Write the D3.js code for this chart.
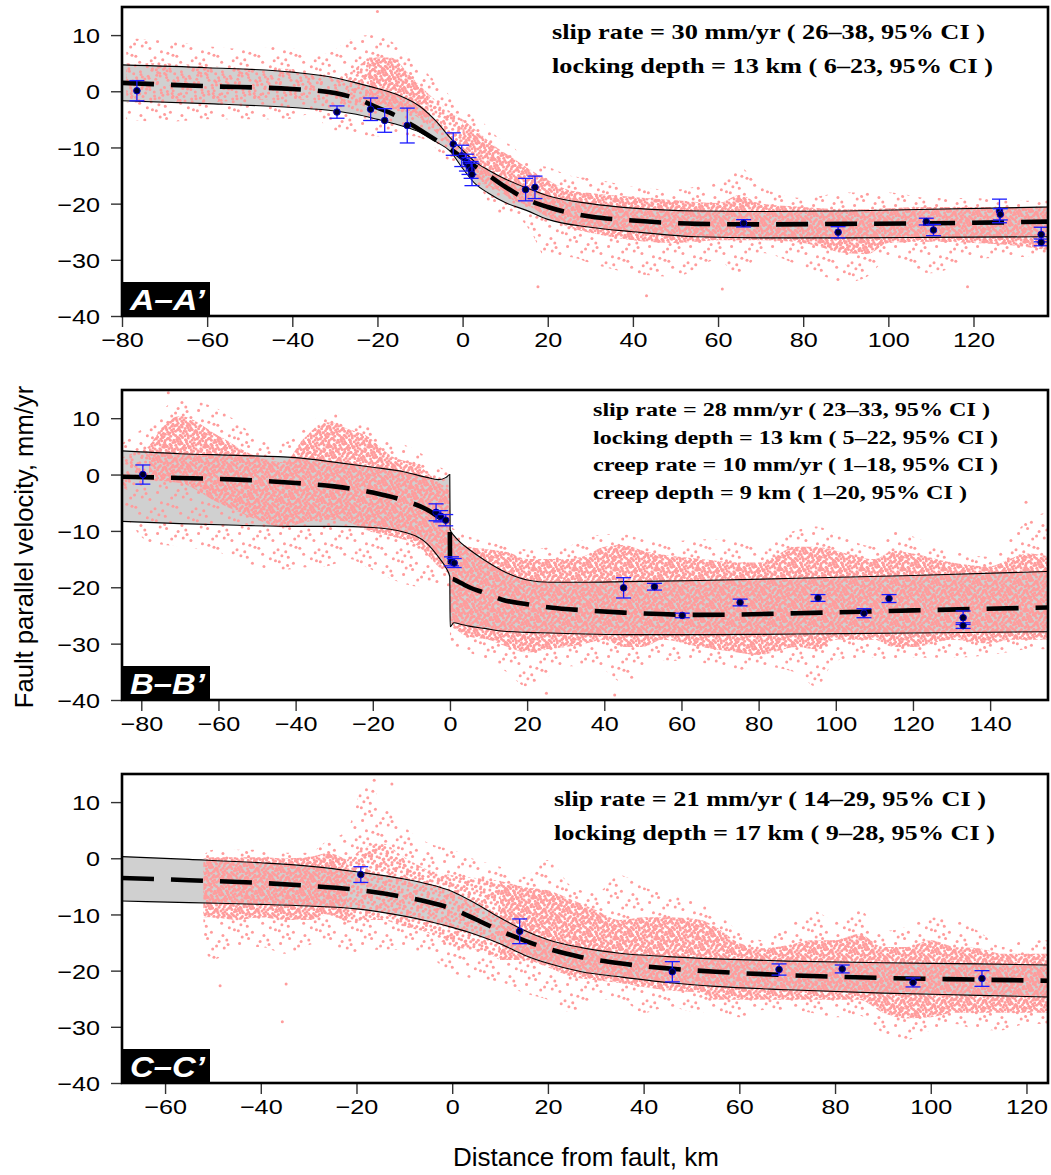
<!DOCTYPE html>
<html>
<head>
<meta charset="utf-8">
<script src="https://cdn.jsdelivr.net/npm/d3@7"></script>
<style>
  body { margin: 0; background: #fff; }
  svg { display: block; }
</style>
</head>
<body>
<svg id="chart" width="1051" height="1175"></svg>
<script>
// ---------- model curves (best fit + bounds) ----------
var modelA_x   = [-80, -60, -40, -30, -25, -20, -15, -10, -6, -3, 0, 3, 6, 10, 15, 20, 30, 40, 55, 70, 90, 110, 137.5];
var modelA_mid = [1.5, 0.9, 0.4, -0.3, -1.3, -2.9, -4.6, -6.9, -8.8, -10.2, -11.9, -13.4, -14.9, -17.0, -19.2, -20.6, -22.3, -23.0, -23.6, -23.7, -23.6, -23.5, -23.2];
var modelA_up  = [4.7, 4.2, 3.4, 2.4, 1.5, 0.5, -0.7, -2.7, -5.5, -8.2, -10.5, -12.6, -14.0, -15.6, -17.2, -18.6, -20.0, -20.8, -21.3, -21.4, -21.3, -21.0, -20.6];
var modelA_lo  = [-1.7, -2.2, -2.9, -3.5, -4.1, -5.0, -6.0, -7.3, -9.1, -10.6, -13.7, -16.5, -18.1, -19.8, -21.2, -22.8, -24.2, -25.0, -25.9, -26.1, -26.1, -26.0, -25.9];

var modelB_x   = [-85, -70, -55, -40, -30, -20, -12, -6, -3, -1, -0.05, 0.05, 1, 3, 5, 9, 14, 20, 26, 35, 45, 65, 90, 120, 155];
var modelB_mid = [-0.4, -0.6, -0.9, -1.5, -2.1, -3.2, -4.6, -6.2, -7.5, -8.4, -9.0, -18.4, -18.6, -19.3, -20.0, -21.0, -22.3, -23.0, -23.6, -24.1, -24.5, -24.9, -24.6, -24.1, -23.6];
var modelB_up  = [4.2, 3.7, 3.4, 3.0, 2.2, 1.3, 0.5, -0.5, -0.9, -0.5, 0.0, -9.8, -10.8, -12.2, -13.3, -15.2, -17.2, -18.7, -19.1, -19.1, -19.0, -18.8, -18.4, -17.9, -17.2];
var modelB_lo  = [-8.3, -8.7, -9.0, -9.2, -9.2, -9.4, -10.2, -12.2, -14.6, -16.6, -18.1, -27.0, -26.3, -26.6, -26.9, -27.3, -27.8, -28.0, -28.1, -28.3, -28.4, -28.4, -28.3, -28.1, -27.9];

var modelC_x   = [-69, -55, -40, -30, -20, -10, -5, 0, 5, 10, 15, 20, 27, 35, 45, 55, 70, 90, 110, 124.5];
var modelC_mid = [-3.5, -3.9, -4.4, -4.9, -5.6, -6.9, -7.8, -9.0, -10.9, -12.9, -14.6, -16.1, -17.6, -18.7, -19.6, -20.2, -20.8, -21.3, -21.6, -21.8];
var modelC_up  = [0.3, -0.2, -0.8, -1.4, -2.4, -3.7, -4.6, -5.9, -8.1, -10.6, -12.8, -14.5, -15.9, -16.9, -17.5, -17.9, -18.3, -18.6, -18.8, -19.0];
var modelC_lo  = [-7.6, -7.9, -8.2, -8.5, -9.0, -10.3, -11.2, -12.3, -13.6, -15.2, -17.2, -18.7, -20.2, -21.1, -22.1, -22.8, -23.4, -24.0, -24.4, -24.7];

// ---------- InSAR point cloud envelopes (outer = sparse, core = denser) ----------
// level: 0 light, 1 medium, 2 dense (applies to the stretch right of each station)
var cloudA_x       = [-79, -70, -60, -50, -42, -35, -31, -27, -22, -17, -12, -8, -4, 0, 4, 8, 12, 16, 20, 25, 30, 40, 50, 60, 65, 70, 80, 90, 95, 100, 110, 120, 130, 137.5];
var cloudA_outerHi = [9.5, 9, 8, 7.5, 8, 6.5, 7, 9, 10, 9, 6, 3, 0, -3, -5, -8, -10, -13, -13.5, -15, -15.5, -17, -17.5, -15.5, -13.5, -17, -19, -18, -18, -18, -19, -19, -19.5, -19.4];
var cloudA_coreHi  = [5, 5, 4.5, 4, 4, 3.5, 2.5, 3, 6, 6, 2.5, -0.5, -3, -5, -7.5, -10, -12, -14, -15.8, -17.6, -18.1, -18.8, -19.4, -19.9, -18.5, -20, -20.6, -21, -21, -20.8, -20.6, -20.6, -20.6, -20.6];
var cloudA_coreLo  = [-2, -2, -2, -1.5, -1.5, -1.5, -2.5, -3, -2, -3, -4, -6, -9, -12, -16, -17.5, -19.4, -20.6, -22.4, -24.2, -25.2, -26.5, -27, -26.5, -26.5, -26.5, -27, -28.8, -29, -27, -26.8, -27, -27.5, -28.3];
var cloudA_outerLo = [-5, -5.5, -5, -5, -5, -4, -7, -7, -8, -8, -8, -9, -12, -14, -17, -21.7, -22, -25, -30, -29.5, -30.6, -32.4, -33, -30, -33, -28.8, -31.3, -34, -33, -30, -32.4, -30, -29.5, -29.5];
var cloudA_level   = [0, 0, 0, 0, 0, 0, 0, 1, 2, 2, 2, 1, 1, 2, 2, 2, 2, 2, 2, 2, 2, 2, 2, 2, 2, 2, 2, 2, 2, 2, 2, 2, 2, 2];

var cloudB_x       = [-85, -78, -70, -60, -50, -43, -38, -32, -26, -22, -15, -8, -3, -0.05, 0.05, 5, 10, 15, 20, 25, 30, 35, 40, 45, 50, 55, 65, 75, 80, 90, 95, 100, 110, 115, 120, 130, 140, 145, 150, 155];
var cloudB_outerHi = [5.5, 9, 13.4, 11.6, 6.9, 5.7, 8, 11, 10, 9.3, 6.3, 4, 1.5, 0, -9, -11, -12, -12.5, -13.3, -13, -12.8, -11.5, -10.6, -10.6, -11.5, -12, -11.5, -11.5, -12.8, -9.8, -9.2, -10.5, -12.8, -9.8, -11, -13.5, -14.6, -11.5, -8, -6.7];
var cloudB_coreHi  = [3, 5, 10.4, 6.9, 3.2, 2.2, 6.3, 9.3, 8, 7, 3.2, 1.5, -1.4, -3, -10, -12.8, -13.3, -13.8, -15, -15, -15, -14.4, -12.8, -12.5, -13.5, -14.2, -15, -15.6, -15.6, -12.8, -12.8, -13.5, -15, -13.5, -14, -15.6, -16.3, -15, -14, -14.5];
var cloudB_coreLo  = [-3, -1, -1.5, -5, -8, -9.4, -8.5, -8, -8.5, -9.8, -11, -12.8, -16.3, -18, -26, -28.8, -29.3, -30.6, -31.6, -31, -30.6, -30, -29.3, -30.6, -30.6, -29.3, -30.6, -31.6, -32, -30.6, -31, -29.3, -29.3, -30.6, -30.6, -29.3, -30, -29.3, -29.3, -29.3];
var cloudB_outerLo = [-6, -12, -12.8, -13.8, -16.3, -16.9, -16.5, -16.3, -15, -16.3, -18.6, -19.9, -20, -20, -30, -31.6, -32.9, -35.2, -37.7, -36, -34, -34, -34.7, -37, -35, -33, -33.4, -34.7, -34, -35.2, -37.7, -33, -32.5, -33, -32.5, -32.5, -32, -31.5, -31, -31];
var cloudB_level   = [0, 2, 2, 2, 2, 2, 2, 2, 2, 2, 2, 2, 2, 2, 2, 2, 2, 2, 2, 2, 2, 2, 2, 2, 2, 2, 2, 2, 2, 2, 2, 2, 2, 2, 2, 2, 2, 2, 2, 2];

var cloudC_x       = [-52, -50, -45, -40, -35, -30, -26, -22, -18, -15, -10, -5, 0, 5, 10, 15, 20, 25, 30, 35, 40, 45, 52, 55, 60, 65, 70, 75, 80, 85, 90, 95, 100, 105, 110, 115, 120, 124.5];
var cloudC_outerHi = [0.5, 1.5, 1.5, 1.5, 1, 1, 3.2, 5, 13.9, 10.4, 5.6, 2.7, 1.5, -0.3, -1.5, -3.3, -0.3, -5, -6.2, -3, -5.1, -6.5, -8, -9.5, -13, -14.6, -12.2, -9.2, -11, -9.2, -13, -12.2, -10.5, -11, -13, -15.8, -14.6, -14.6];
var cloudC_coreHi  = [0, 0.2, 0.2, 0.2, 0, 0.2, 0.9, -0.3, 2, 2.7, 0.2, -2.1, -3, -3.5, -4, -5.1, -5.7, -7.4, -9.2, -11, -10.5, -10.5, -11, -12.2, -15.1, -16, -15.5, -14.6, -14.6, -13.5, -15.8, -15.8, -14.6, -15.8, -16, -17, -17, -17];
var cloudC_coreLo  = [-10.5, -10.5, -11, -10.5, -11, -11, -10, -11.5, -11, -11, -12.2, -13.3, -15.8, -16.3, -18.1, -18.1, -19.4, -21.1, -21.7, -22.2, -22.9, -23.5, -24, -25.2, -25.2, -25.2, -25.2, -25.2, -25.2, -25.2, -27.5, -28.5, -28.3, -27.5, -27.5, -27.5, -27.5, -27.5];
var cloudC_outerLo = [-16, -18.1, -15.8, -15.8, -17, -15.5, -14.6, -16.9, -16.5, -16.3, -16.3, -17.5, -20.4, -21.5, -22, -24, -25.2, -27.5, -25.2, -25.2, -27.5, -26.5, -27.5, -27.5, -28.3, -27, -27, -27.5, -28.3, -28, -31.1, -32.3, -30.6, -29.5, -30.6, -30.6, -29.5, -29.5];
var cloudC_level   = [2, 2, 2, 2, 2, 2, 2, 1, 1, 1, 1, 1, 1, 1, 2, 2, 2, 2, 2, 2, 2, 2, 2, 2, 2, 2, 2, 2, 2, 2, 2, 2, 2, 2, 2, 2, 2, 2];

// isolated outlying InSAR points
var outA_x = [-20, 17.7, 43.2, 61, 118.6];
var outA_v = [14.2, -34.8, -36.4, -35.2, -34.8];
var outB_x = [-73, 25, 42.7, 149.3];
var outB_v = [14.5, -38.8, -39.1, -4.9];
var outC_x = [-48.5, -35.5, -34.7, -16.3, -12.6];
var outC_v = [-22.7, -29.1, -22.4, 13.9, 13.2];

// ---------- GPS velocities with error bars ----------
var gpsA_x   = [-76.5, -29.5, -21.6, -18.3, -13.0, -2.2, -0.2, 0.9, 1.5, 2.0, 2.2, 14.8, 17.0, 66.0, 88.2, 108.9, 110.6, 126.1, 126.3, 135.9, 135.9];
var gpsA_v   = [0.1, -3.7, -3.2, -5.2, -6.1, -9.4, -11.5, -12.7, -13.3, -14.0, -14.8, -17.5, -17.1, -23.5, -25.1, -23.2, -24.7, -21.3, -21.9, -25.5, -26.9];
var gpsA_err = [1.8, 1.1, 2.0, 2.1, 3.1, 2.0, 1.9, 1.5, 1.5, 1.5, 2.0, 2.0, 2.0, 0.65, 1.0, 0.6, 1.0, 2.1, 1.0, 1.3, 0.6];

var gpsB_x   = [-79.6, -3.6, -2.4, -1.1, 0.4, 1.1, 45.0, 53.0, 60.2, 75.2, 95.4, 107.3, 113.8, 133.0, 133.0];
var gpsB_v   = [0.0, -6.7, -7.4, -8.1, -15.4, -15.7, -20.1, -19.9, -25.0, -22.7, -21.9, -24.6, -22.0, -25.4, -26.8];
var gpsB_err = [1.7, 1.5, 1.0, 1.0, 0.8, 0.8, 1.8, 0.6, 0.4, 0.6, 0.6, 0.8, 0.7, 1.2, 0.5];

var gpsC_x   = [-19.1, 14.1, 46.0, 68.3, 81.5, 96.3, 110.7];
var gpsC_v   = [-2.9, -13.0, -20.2, -19.8, -19.7, -22.1, -21.4];
var gpsC_err = [1.4, 2.2, 1.8, 1.0, 0.7, 0.8, 1.4];

// ---------- text ----------
var notesA = ["slip rate = 30 mm/yr ( 26\u201338, 95% CI )",
              "locking depth = 13 km ( 6\u201323, 95% CI )"];
var notesB = ["slip rate = 28 mm/yr ( 23\u201333, 95% CI )",
              "locking depth = 13 km ( 5\u201322, 95% CI )",
              "creep rate = 10 mm/yr ( 1\u201318, 95% CI )",
              "creep depth = 9 km ( 1\u201320, 95% CI )"];
var notesC = ["slip rate = 21 mm/yr ( 14\u201329, 95% CI )",
              "locking depth = 17 km ( 9\u201328, 95% CI )"];
var yTicks = [-40, -30, -20, -10, 0, 10];
var xTicksA = [-80, -60, -40, -20, 0, 20, 40, 60, 80, 100, 120];
var xTicksB = [-80, -60, -40, -20, 0, 20, 40, 60, 80, 100, 120, 140];
var xTicksC = [-60, -40, -20, 0, 20, 40, 60, 80, 100, 120];

// ---------- layout ----------
var plotL = 122, plotR = 1048;
var pink = "#ff9c9c", bandGray = "#d0d0d0", gpsBlue = "#1a1aff";
var sans = "'Liberation Sans', Arial, Helvetica, sans-serif";
var serif = "'Liberation Serif', 'Times New Roman', serif";

var panels = [
  { id: "A", top: 7, bottom: 316, xDomain: [-80, 137.5], xTicks: xTicksA, label: "A\u2013A\u2019",
    model: { x: modelA_x, mid: modelA_mid, up: modelA_up, lo: modelA_lo },
    cloud: { x: cloudA_x, oHi: cloudA_outerHi, cHi: cloudA_coreHi, cLo: cloudA_coreLo, oLo: cloudA_outerLo, level: cloudA_level },
    out: { x: outA_x, v: outA_v },
    gps: { x: gpsA_x, v: gpsA_v, err: gpsA_err },
    notes: notesA, noteX: 552, noteY: [39, 73], noteLen: [433, 441], noteSize: 21.5 },
  { id: "B", top: 390, bottom: 700, xDomain: [-85, 155], xTicks: xTicksB, label: "B\u2013B\u2019",
    model: { x: modelB_x, mid: modelB_mid, up: modelB_up, lo: modelB_lo },
    cloud: { x: cloudB_x, oHi: cloudB_outerHi, cHi: cloudB_coreHi, cLo: cloudB_coreLo, oLo: cloudB_outerLo, level: cloudB_level },
    out: { x: outB_x, v: outB_v },
    gps: { x: gpsB_x, v: gpsB_v, err: gpsB_err },
    notes: notesB, noteX: 593, noteY: [416, 443.5, 471, 499], noteLen: [397, 405, 405, 374], noteSize: 18.5 },
  { id: "C", top: 774, bottom: 1083, xDomain: [-69, 124.5], xTicks: xTicksC, label: "C\u2013C\u2019",
    model: { x: modelC_x, mid: modelC_mid, up: modelC_up, lo: modelC_lo },
    cloud: { x: cloudC_x, oHi: cloudC_outerHi, cHi: cloudC_coreHi, cLo: cloudC_coreLo, oLo: cloudC_outerLo, level: cloudC_level },
    out: { x: outC_x, v: outC_v },
    gps: { x: gpsC_x, v: gpsC_v, err: gpsC_err },
    notes: notesC, noteX: 554, noteY: [806, 840], noteLen: [432, 441], noteSize: 21.5 }
];

var svg = d3.select("#chart");
var defs = svg.append("defs");

// dot textures used to fill the point-cloud envelopes (Halton layout, purely decorative)
function halton(i, b) {
  var f = 1, r = 0;
  while (i > 0) { f = f / b; r += f * (i % b); i = Math.floor(i / b); }
  return r;
}
var T = 41;
function makeDots(id, n, start) {
  var p = defs.append("pattern").attr("id", id)
    .attr("patternUnits", "userSpaceOnUse").attr("width", T).attr("height", T);
  for (var i = 0; i < n; i++) {
    var px = halton(i + start, 2) * T, py = halton(i + start, 3) * T;
    [-T, 0, T].forEach(function(dx) {
      [-T, 0, T].forEach(function(dy) {
        p.append("circle").attr("cx", px + dx).attr("cy", py + dy).attr("r", 1.5).attr("fill", pink);
      });
    });
  }
}
makeDots("dotsSparse", 26, 7);
makeDots("dotsLight", 55, 150);
makeDots("dotsMed", 100, 300);
makeDots("dotsDense", 195, 900);
var levelFill = { 0: "url(#dotsLight)", 1: "url(#dotsMed)", 2: "url(#dotsDense)" };

function minusFmt(d) { return d < 0 ? "\u2212" + Math.abs(d) : String(d); }

function drawPanel(P) {
  var x = d3.scaleLinear().domain(P.xDomain).range([plotL, plotR]);
  var y = d3.scaleLinear().domain([-40, 15]).range([P.bottom, P.top]);
  var g = svg.append("g").attr("class", "panel" + P.id);

  defs.append("clipPath").attr("id", "clip" + P.id)
    .append("rect").attr("x", plotL).attr("y", P.top)
    .attr("width", plotR - plotL).attr("height", P.bottom - P.top);
  var pg = g.append("g").attr("clip-path", "url(#clip" + P.id + ")");

  // grey confidence band
  var m = P.model;
  var mi = d3.range(m.x.length);
  pg.append("path").datum(mi)
    .attr("d", d3.area()
      .x(function(i) { return x(m.x[i]); })
      .y0(function(i) { return y(m.lo[i]); })
      .y1(function(i) { return y(m.up[i]); })
      .curve(d3.curveMonotoneX))
    .attr("fill", bandGray);

  // point cloud: sparse outer envelope
  var c = P.cloud;
  pg.append("path").datum(d3.range(c.x.length))
    .attr("d", d3.area()
      .x(function(i) { return x(c.x[i]); })
      .y0(function(i) { return y(c.oLo[i]); })
      .y1(function(i) { return y(c.oHi[i]); })
      .curve(d3.curveMonotoneX))
    .attr("fill", "url(#dotsSparse)");

  // point cloud: core, split into runs of equal density
  var runs = [], start = 0;
  for (var i = 1; i < c.x.length - 1; i++) {
    if (c.level[i] !== c.level[start]) { runs.push([start, i]); start = i; }
  }
  runs.push([start, c.x.length - 1]);
  runs.forEach(function(r) {
    pg.append("path").datum(d3.range(r[0], r[1] + 1))
      .attr("d", d3.area()
        .x(function(i) { return x(c.x[i]); })
        .y0(function(i) { return y(c.cLo[i]); })
        .y1(function(i) { return y(c.cHi[i]); })
        .curve(d3.curveMonotoneX))
      .attr("fill", levelFill[c.level[r[0]]]);
  });

  // lone outliers
  pg.selectAll("circle.out").data(d3.range(P.out.x.length)).enter()
    .append("circle").attr("class", "out")
    .attr("cx", function(i) { return x(P.out.x[i]); })
    .attr("cy", function(i) { return y(P.out.v[i]); })
    .attr("r", 1.5).attr("fill", pink);

  // band edges
  ["up", "lo"].forEach(function(k) {
    pg.append("path").datum(mi)
      .attr("d", d3.line()
        .x(function(i) { return x(m.x[i]); })
        .y(function(i) { return y(m[k][i]); })
        .curve(d3.curveMonotoneX))
      .attr("fill", "none").attr("stroke", "#000").attr("stroke-width", 1.1);
  });

  // best-fit model, dashed
  pg.append("path").datum(mi)
    .attr("d", d3.line()
      .x(function(i) { return x(m.x[i]); })
      .y(function(i) { return y(m.mid[i]); })
      .curve(d3.curveMonotoneX))
    .attr("fill", "none").attr("stroke", "#000")
    .attr("stroke-width", 4.6).attr("stroke-dasharray", "32,17");

  // GPS with error bars
  var gp = P.gps;
  var bars = g.append("g").selectAll("g").data(d3.range(gp.x.length)).enter().append("g");
  bars.append("line")
    .attr("x1", function(i) { return x(gp.x[i]); })
    .attr("x2", function(i) { return x(gp.x[i]); })
    .attr("y1", function(i) { return y(gp.v[i] - gp.err[i]); })
    .attr("y2", function(i) { return y(gp.v[i] + gp.err[i]); })
    .attr("stroke", gpsBlue).attr("stroke-width", 1.3);
  [-1, 1].forEach(function(s) {
    bars.append("line")
      .attr("x1", function(i) { return x(gp.x[i]) - 7.5; })
      .attr("x2", function(i) { return x(gp.x[i]) + 7.5; })
      .attr("y1", function(i) { return y(gp.v[i] + s * gp.err[i]); })
      .attr("y2", function(i) { return y(gp.v[i] + s * gp.err[i]); })
      .attr("stroke", gpsBlue).attr("stroke-width", 1.3);
  });
  bars.append("circle")
    .attr("cx", function(i) { return x(gp.x[i]); })
    .attr("cy", function(i) { return y(gp.v[i]); })
    .attr("r", 3.3).attr("fill", "#00002a").attr("stroke", "#0000c8").attr("stroke-width", 1);

  // axes
  var yAxis = g.append("g").attr("transform", "translate(" + plotL + ",0)")
    .call(d3.axisLeft(y).tickValues(yTicks).tickSize(11).tickFormat(minusFmt));
  yAxis.select(".domain").remove();
  yAxis.selectAll(".tick line").attr("stroke", "#333").attr("stroke-width", 1.4);
  yAxis.selectAll(".tick text")
    .attr("x", -22 / 1.2).attr("dy", "0.36em").attr("transform", "scale(1.2,1)")
    .style("font-family", sans).style("font-size", "21px").attr("fill", "#000");

  var xAxis = g.append("g").attr("transform", "translate(0," + P.bottom + ")")
    .call(d3.axisBottom(x).tickValues(P.xTicks).tickSize(11).tickFormat(minusFmt));
  xAxis.select(".domain").remove();
  xAxis.selectAll(".tick line").attr("stroke", "#333").attr("stroke-width", 1.4);
  xAxis.selectAll(".tick text")
    .attr("y", 31.5).attr("dy", 0).attr("transform", "scale(1.2,1)")
    .style("font-family", sans).style("font-size", "21px").attr("fill", "#000");

  // frame
  g.append("rect").attr("x", plotL).attr("y", P.top)
    .attr("width", plotR - plotL).attr("height", P.bottom - P.top)
    .attr("fill", "none").attr("stroke", "#000").attr("stroke-width", 2.6);

  // profile tag
  g.append("rect").attr("x", plotL + 1).attr("y", P.bottom - 34)
    .attr("width", 87).attr("height", 34).attr("fill", "#000");
  g.append("text").attr("x", 130).attr("y", P.bottom - 6)
    .attr("textLength", 75).attr("lengthAdjust", "spacingAndGlyphs")
    .style("font-family", sans).style("font-size", "30px")
    .style("font-weight", "bold").style("font-style", "italic")
    .attr("fill", "#fff").text(P.label);

  // parameter notes
  g.selectAll("text.note").data(P.notes).enter().append("text").attr("class", "note")
    .attr("x", P.noteX)
    .attr("y", function(d, i) { return P.noteY[i]; })
    .attr("textLength", function(d, i) { return P.noteLen[i]; })
    .attr("lengthAdjust", "spacingAndGlyphs")
    .style("font-family", serif).style("font-weight", "bold")
    .style("font-size", P.noteSize + "px").attr("fill", "#000")
    .style("white-space", "pre")
    .text(function(d) { return d; });
}

panels.forEach(drawPanel);

// shared axis titles
svg.append("text")
  .attr("transform", "translate(33,547) rotate(-90)")
  .attr("text-anchor", "middle")
  .style("font-family", sans).style("font-size", "25.6px")
  .text("Fault parallel velocity, mm/yr");

svg.append("text")
  .attr("x", 586).attr("y", 1166)
  .attr("text-anchor", "middle")
  .style("font-family", sans).style("font-size", "26px")
  .text("Distance from fault, km");
</script>
</body>
</html>
